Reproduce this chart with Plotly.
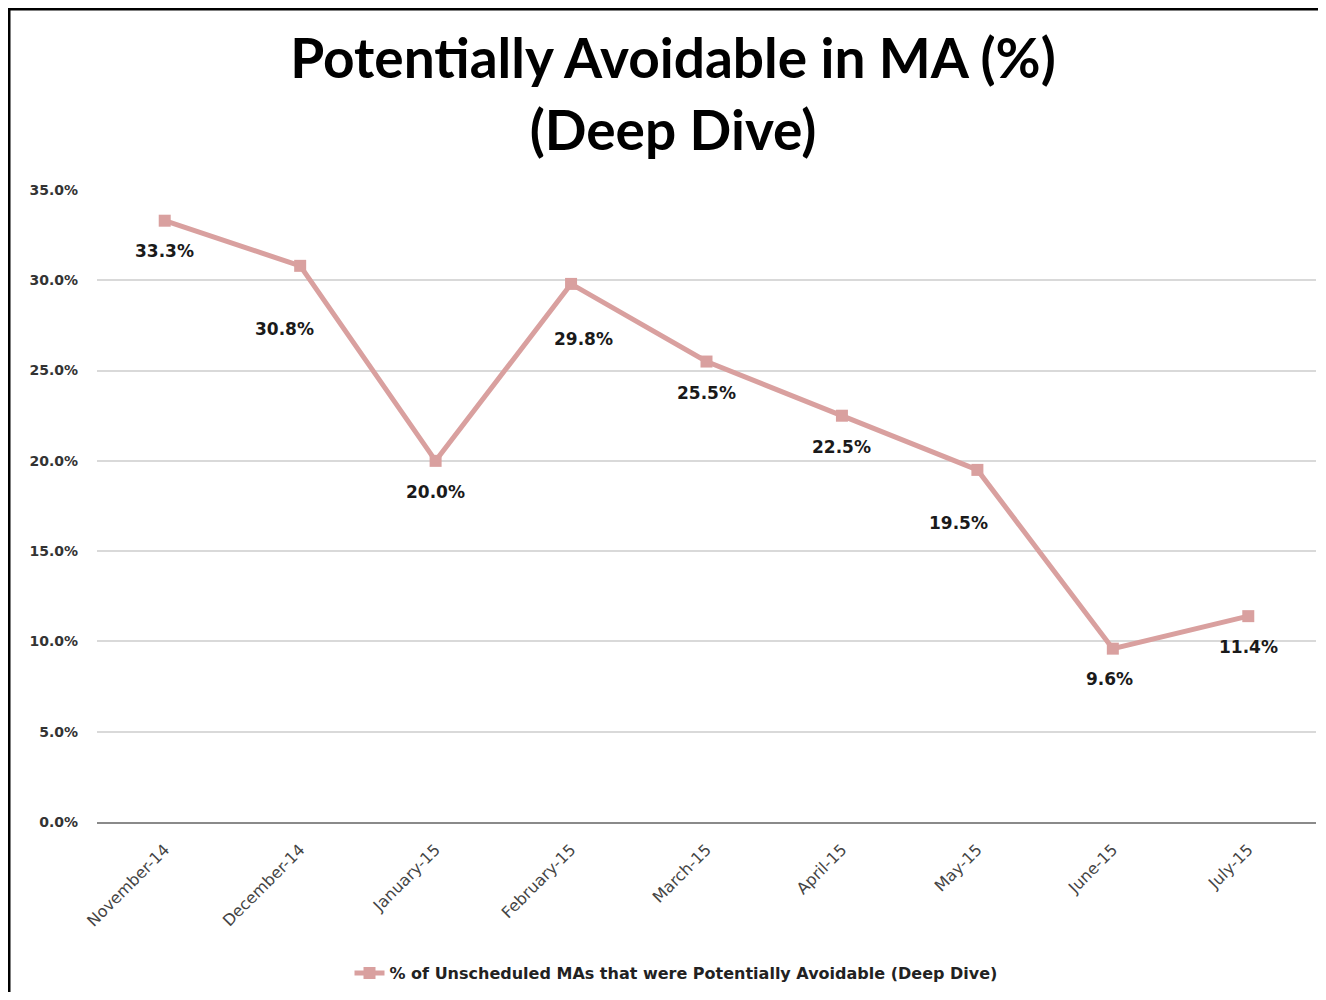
import plotly.graph_objects as go

months = ["November-14", "December-14", "January-15", "February-15", "March-15",
          "April-15", "May-15", "June-15", "July-15"]
values = [33.3, 30.8, 20.0, 29.8, 25.5, 22.5, 19.5, 9.6, 11.4]
series_name = "% of Unscheduled MAs that were Potentially Avoidable (Deep Dive)"
title_text = "Potentially Avoidable in MA (%)<br>(Deep Dive)"

# label pixel offsets (layout only)
label_dx = [0, -16, 0, 12, 0, 0, -19, -3, 0]
label_dy = [30, 63, 31, 55, 31, 31, 53, 30, 31]

line_color = "#D9A09F"

W, H = 1310, 984
L, R, T, B = 89, 2, 182, 170
PW, PH = W - L - R, H - T - B

fig = go.Figure()
fig.add_trace(go.Scatter(
    x=months, y=values, mode="lines+markers", name=series_name,
    line=dict(color=line_color, width=5),
    marker=dict(symbol="square", size=12, color=line_color),
    showlegend=True))

for m, v, dx, dy in zip(months, values, label_dx, label_dy):
    fig.add_annotation(x=m, y=v, text=f"{v:.1f}%", showarrow=False,
                       xshift=dx, yshift=-dy,
                       font=dict(family="DejaVu Sans", size=17, color="#1a1a1a", weight="bold"))

fig.update_layout(
    width=W, height=H, showlegend=True,
    paper_bgcolor="white", plot_bgcolor="white",
    margin=dict(l=L, r=R, t=T, b=B, autoexpand=False),
    title=dict(text=title_text, x=665 / W, xanchor="center", xref="container",
               yref="container", y=1 - 70 / H, yanchor="middle",
               font=dict(family="Lato", size=55, color="black", weight="bold")),
    xaxis=dict(type="category", range=[-0.5, 8.5], tickangle=-45,
               showgrid=False, showline=True, linecolor="#8a8a8a", linewidth=2,
               ticks="", ticklabelstandoff=10,
               tickfont=dict(family="DejaVu Sans", size=16, color="#444444")),
    yaxis=dict(range=[0, 35], dtick=5, tickformat=".1f", ticksuffix="%",
               showgrid=True, gridcolor="#d9d9d9", gridwidth=1.5,
               zeroline=False, showline=False, ticks="", ticklabelstandoff=18,
               tickfont=dict(family="DejaVu Sans", size=14, color="#333333", weight="bold")),
    legend=dict(orientation="h", xref="container", x=668 / W, xanchor="center",
                y=-151 / PH, yanchor="middle",
                font=dict(family="DejaVu Sans", size=16, color="#222222", weight="bold")),
    shapes=[
        dict(type="line", xref="paper", yref="paper",
             x0=-L / PW, x1=1 + R / PW, y0=1 + (T - 1) / PH, y1=1 + (T - 1) / PH,
             line=dict(color="black", width=3)),
        dict(type="line", xref="paper", yref="paper",
             x0=-(L - 1) / PW, x1=-(L - 1) / PW, y0=1 + T / PH, y1=-B / PH,
             line=dict(color="black", width=3)),
    ],
)

fig.write_html("out.html")
